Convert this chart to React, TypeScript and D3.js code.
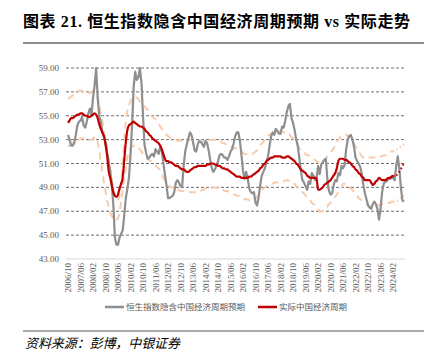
import { useEffect, useRef } from "react";
import * as d3 from "d3";

// monthly, 2006/10 .. 2024/09
const tickLabels = [
  "2006/10", "2007/06", "2008/02", "2008/10", "2009/06", "2010/02", "2010/10",
  "2011/06", "2012/02", "2012/10", "2013/06", "2014/02", "2014/10", "2015/06",
  "2016/02", "2016/10", "2017/06", "2018/02", "2018/10", "2019/06", "2020/02",
  "2020/10", "2021/06", "2022/02", "2022/10", "2023/06", "2024/02",
];
const yTicks = [43, 45, 47, 49, 51, 53, 55, 57, 59];

const hsiImplied = [
  53.4, 53.0, 52.5, 52.5, 52.7, 53.4, 54.2, 54.5, 54.6, 54.9,
  54.2, 54.0, 54.5, 55.2, 55.6, 55.0, 56.5, 57.5, 59.0, 56.5,
  55.0, 54.5, 53.6, 53.2, 52.8, 51.9, 51.2, 50.4, 49.2, 47.6,
  44.8, 44.2, 44.2, 44.8, 45.1, 45.4, 46.7, 48.1, 48.9, 49.8,
  51.7, 54.2, 57.4, 58.7, 58.0, 58.2, 59.0, 57.8, 55.0, 52.5,
  51.9, 51.4, 51.5, 51.7, 51.8, 51.6, 52.2, 52.0, 51.8, 52.4,
  52.0, 51.1, 50.1, 49.2, 48.1, 48.1, 48.2, 48.3, 48.6, 49.4,
  49.6, 49.4, 49.1, 49.0, 50.8, 52.0, 52.6, 53.1, 53.6, 53.4,
  52.8, 52.1, 52.0, 52.6, 52.9, 52.8, 52.6, 52.4, 52.9, 52.7,
  52.1, 51.3, 50.6, 50.3, 50.5, 50.8, 51.2, 51.7, 51.8, 51.7,
  51.5, 51.5, 51.3, 51.6, 52.0, 52.2, 52.7, 53.3, 53.6, 53.6,
  52.9, 51.7, 50.4, 49.7, 50.3, 49.7, 48.9, 48.6, 48.5, 48.6,
  47.7, 47.5, 48.2, 49.2, 50.0, 50.3, 50.6, 51.1, 51.6, 52.5,
  53.3, 53.6, 53.4, 53.9, 53.7, 53.5, 53.5, 54.1, 54.0, 54.6,
  55.3, 55.8, 56.0, 54.8, 54.4, 53.8, 53.0, 52.5, 51.5, 50.4,
  49.6, 49.4, 49.1, 48.8, 49.5, 49.3, 50.2, 50.0, 49.6, 49.7,
  50.8, 50.1, 50.9, 51.1, 51.3, 51.4, 49.6, 48.7, 48.4, 48.5,
  49.2, 49.6, 49.5, 50.2, 50.0, 50.8, 50.6, 50.9, 52.2, 53.0,
  53.3, 53.4, 53.0, 52.4, 51.5, 51.2, 51.0, 50.7, 50.1, 49.2,
  48.5, 48.0, 47.5, 47.3, 47.2, 47.6, 47.8, 47.6, 47.2, 46.3,
  47.2, 48.6, 49.3, 49.5, 49.5, 49.7, 49.7, 49.8, 49.8, 49.6,
  50.8, 51.6, 50.6, 49.0, 47.9, 47.8,
];

const actualCycle = [
  54.4, 54.6, 54.8, 54.8, 54.9, 55.0, 55.1, 55.1, 55.2, 55.2,
  55.1, 55.0, 55.0, 54.9, 54.9, 55.0, 55.1, 55.2, 55.1, 54.8,
  54.3, 53.9, 53.6, 53.3, 52.6, 51.7, 50.4, 49.8, 49.2, 48.6,
  48.3, 48.2, 48.4, 48.9, 49.3, 49.8, 51.3, 52.8, 53.8, 54.2,
  54.3, 54.4, 54.5, 54.4, 54.3, 54.2, 54.1, 54.1, 54.0, 53.9,
  53.7, 53.6, 53.4, 53.3, 53.1, 53.0, 52.9, 52.8, 52.7, 52.5,
  52.2, 51.8, 51.4, 51.2, 51.2, 51.1, 51.1, 51.0, 50.9, 50.8,
  50.8, 50.7, 50.6, 50.5, 50.5, 50.4, 50.3, 50.3, 50.4, 50.5,
  50.6, 50.7, 50.7, 50.8, 50.8, 50.8, 50.8, 50.8, 50.8, 50.9,
  50.9, 51.0, 51.0, 51.0, 50.9, 50.9, 50.8, 50.8, 50.7, 50.6,
  50.6, 50.5, 50.5, 50.4, 50.3, 50.2, 50.1, 50.0, 49.9, 49.9,
  49.9, 49.8, 49.8, 49.8, 49.8, 49.8, 49.9, 49.9, 50.0, 50.1,
  50.2, 50.3, 50.4, 50.6, 50.7, 50.9, 51.0, 51.2, 51.3, 51.4,
  51.5, 51.5, 51.6, 51.6, 51.6, 51.6, 51.6, 51.5, 51.5, 51.5,
  51.6, 51.6, 51.5, 51.4, 51.3, 51.2, 51.0, 50.9, 50.7, 50.5,
  50.4, 50.3, 50.2, 50.0, 49.9, 49.8, 49.8, 49.8, 49.8, 49.8,
  48.8, 48.8, 48.9, 49.0, 49.2, 49.3, 49.4, 49.5, 49.6, 49.8,
  50.0, 50.2, 50.6, 51.2, 51.4, 51.4, 51.4, 51.3, 51.3, 51.2,
  51.1, 51.0, 50.8, 50.7, 50.5, 50.4, 50.2, 50.1, 49.9, 49.8,
  49.6, 49.6, 49.6, 49.6, 49.4, 49.2, 49.3, 49.5, 49.6, 49.8,
  49.7, 49.6, 49.6, 49.6, 49.7, 49.8, 49.8, 49.9, 50.0, 49.9,
  50.0, 50.1, 50.3, 50.5, 50.8, 51.0,
];

const upperBand = [
  56.4, 56.5, 56.6, 56.7, 56.8, 56.9, 57.0, 57.1, 57.1, 57.1,
  57.0, 57.0, 57.0, 56.9, 56.9, 57.0, 57.1, 57.0, 56.9, 56.6,
  55.9, 55.2, 54.5, 53.7, 53.0, 52.3, 51.4, 50.5, 49.7, 48.8,
  48.3, 47.9, 48.0, 48.4, 49.4, 51.0, 52.9, 54.5, 55.4, 55.9,
  56.2, 56.4, 56.6, 56.6, 56.5, 56.4, 56.2, 56.0, 55.9, 55.8,
  55.6, 55.5, 55.3, 55.1, 54.9, 54.8, 54.7, 54.5, 54.3, 54.1,
  53.9, 53.8, 53.6, 53.4, 53.3, 53.2, 53.1, 53.0, 53.0, 53.0,
  52.9, 52.9, 52.9, 52.9, 52.9, 52.9, 52.9, 53.0, 53.0, 53.0,
  52.9, 52.8, 52.8, 52.8, 52.8, 52.8, 52.8, 52.9, 52.9, 52.9,
  53.0, 53.0, 53.0, 53.0, 53.0, 53.0, 52.9, 52.8, 52.8, 52.7,
  52.7, 52.6, 52.5, 52.5, 52.4, 52.4, 52.3, 52.3, 52.2, 52.1,
  52.0, 52.0, 51.9, 51.8, 51.8, 51.8, 51.8, 51.8, 51.8, 51.9,
  52.0, 52.1, 52.3, 52.5, 52.7, 52.8, 53.0, 53.1, 53.3, 53.4,
  53.5, 53.5, 53.6, 53.7, 53.7, 53.7, 53.7, 53.7, 53.6, 53.6,
  53.5, 53.5, 53.4, 53.2, 53.1, 53.0, 52.7, 52.5, 52.3, 52.1,
  52.0, 51.9, 51.8, 51.7, 51.7, 51.6, 51.5, 51.4, 51.3, 51.2,
  51.1, 51.0, 51.0, 51.1, 51.3, 51.4, 51.6, 51.7, 51.9, 52.1,
  52.3, 52.5, 52.8, 53.0, 53.2, 53.3, 53.4, 53.4, 53.4, 53.3,
  53.3, 53.2, 52.9, 52.7, 52.4, 52.2, 52.0, 51.8, 51.6, 51.5,
  51.4, 51.4, 51.5, 51.5, 51.5, 51.5, 51.5, 51.5, 51.6, 51.6,
  51.6, 51.6, 51.7, 51.7, 51.7, 51.8, 51.9, 52.0, 52.0, 52.1,
  52.2, 52.2, 52.3, 52.4, 52.5, 52.6,
];

const lowerBand = [
  52.4, 52.5, 52.6, 52.7, 52.8, 52.8, 52.9, 53.0, 53.1, 53.1,
  53.1, 53.1, 53.1, 53.0, 53.0, 53.0, 53.1, 53.2, 53.2, 52.8,
  52.1, 51.2, 50.3, 49.4, 48.7, 47.9, 47.4, 46.9, 46.6, 46.4,
  46.2, 46.3, 46.4, 46.9, 47.8, 48.8, 49.8, 50.7, 51.5, 52.0,
  52.3, 52.4, 52.5, 52.5, 52.4, 52.3, 52.2, 52.0, 51.8, 51.6,
  51.5, 51.4, 51.3, 51.2, 51.1, 51.0, 50.9, 50.7, 50.6, 50.4,
  50.1, 49.8, 49.6, 49.3, 49.1, 49.1, 49.0, 49.0, 48.9, 48.9,
  48.8, 48.8, 48.7, 48.7, 48.7, 48.6, 48.6, 48.6, 48.6, 48.6,
  48.6, 48.6, 48.6, 48.7, 48.7, 48.7, 48.8, 48.8, 48.9, 48.9,
  48.9, 48.9, 48.9, 49.0, 49.0, 49.0, 48.9, 48.8, 48.8, 48.8,
  48.7, 48.7, 48.7, 48.6, 48.6, 48.5, 48.4, 48.4, 48.3, 48.3,
  48.2, 48.2, 48.1, 48.0, 48.0, 48.0, 47.9, 47.9, 47.9, 48.0,
  48.1, 48.2, 48.4, 48.6, 48.7, 48.9, 49.0, 49.1, 49.2, 49.2,
  49.3, 49.3, 49.4, 49.4, 49.4, 49.5, 49.5, 49.5, 49.5, 49.6,
  49.6, 49.6, 49.5, 49.5, 49.4, 49.3, 49.1, 49.0, 48.9, 48.8,
  48.6, 48.5, 48.3, 48.2, 48.1, 47.9, 47.7, 47.6, 47.5, 47.3,
  47.2, 47.0, 47.0, 47.0, 47.1, 47.3, 47.4, 47.6, 47.7, 47.9,
  48.1, 48.2, 48.4, 48.6, 48.8, 49.0, 49.3, 49.3, 49.3, 49.2,
  49.1, 48.9, 48.8, 48.6, 48.5, 48.3, 48.1, 48.0, 47.9, 47.8,
  47.7, 47.6, 47.5, 47.4, 47.4, 47.4, 47.4, 47.4, 47.5, 47.5,
  47.5, 47.6, 47.6, 47.6, 47.7, 47.7, 47.7, 47.8, 47.8, 47.8,
  47.9, 47.9, 48.0, 48.1, 48.2, 48.3,
];

// last months are drawn dotted (2024/02 onwards)
const forecastFrom = 208;

const serif = "'Liberation Serif', 'Times New Roman', serif";
const cjk = "'Liberation Serif', 'Noto Sans CJK SC', sans-serif";

function monthIndex(label: string) {
  const [yy, mm] = label.split("/").map(Number);
  return (yy - 2006) * 12 + (mm - 10);
}

export default function App() {
  const ref = useRef<SVGSVGElement>(null);

  useEffect(() => {
    const svg = d3.select(ref.current);
    svg.selectAll("*").remove();

    const x = d3.scaleLinear().domain([0, hsiImplied.length - 1]).range([68, 404]);
    const y = d3.scaleLinear().domain([43, 59]).range([259, 68]);

    // title + rule
    svg.append("text")
      .attr("x", 23).attr("y", 27)
      .attr("textLength", 387).attr("lengthAdjust", "spacing")
      .style("font-family", cjk).style("font-weight", "bold").style("font-size", "16px")
      .attr("fill", "#000")
      .text("图表 21. 恒生指数隐含中国经济周期预期 vs 实际走势");
    svg.append("line")
      .attr("x1", 23).attr("x2", 424).attr("y1", 43).attr("y2", 43)
      .attr("stroke", "#8c8c8c").attr("stroke-width", 2);

    // gridlines
    svg.append("g").selectAll("line")
      .data(yTicks.filter((d) => d !== 43))
      .enter().append("line")
      .attr("x1", 66).attr("x2", 405)
      .attr("y1", (d) => y(d)).attr("y2", (d) => y(d))
      .attr("stroke", "#6e6e6e").attr("stroke-width", 1)
      .attr("stroke-dasharray", "3,2");

    // x axis line
    svg.append("line")
      .attr("x1", 66).attr("x2", 405).attr("y1", y(43)).attr("y2", y(43))
      .attr("stroke", "#d9d9d9").attr("stroke-width", 1);

    // y labels
    svg.append("g").selectAll("text")
      .data(yTicks)
      .enter().append("text")
      .attr("x", 59).attr("y", (d) => y(d) + 3)
      .attr("text-anchor", "end")
      .style("font-family", serif).style("font-size", "9px")
      .attr("fill", "#595959")
      .text((d) => d.toFixed(2));

    // x labels, rotated
    const xl = svg.append("g").selectAll("g")
      .data(tickLabels)
      .enter().append("g")
      .attr("transform", (d) => `translate(${x(monthIndex(d))},${y(43) + 4}) rotate(-90)`);
    xl.append("text")
      .attr("x", 0).attr("y", 3)
      .attr("text-anchor", "end")
      .style("font-family", serif).style("font-size", "9px")
      .attr("fill", "#595959")
      .text((d) => d);

    const idx = d3.range(hsiImplied.length);
    const solid = idx.filter((i) => i <= forecastFrom);
    const tail = idx.filter((i) => i >= forecastFrom);

    const lineOf = (arr: number[]) =>
      d3.line<number>().x((i) => x(i)).y((i) => y(arr[i])).curve(d3.curveMonotoneX);

    // bands
    [upperBand, lowerBand].forEach((band) => {
      svg.append("path")
        .attr("d", lineOf(band)(solid))
        .attr("fill", "none").attr("stroke", "#f8cbad").attr("stroke-width", 2)
        .attr("stroke-dasharray", "7,5");
      svg.append("path")
        .attr("d", lineOf(band)(tail))
        .attr("fill", "none").attr("stroke", "#f8cbad").attr("stroke-width", 2)
        .attr("stroke-dasharray", "1.5,2.5");
    });

    // HSI implied
    svg.append("path")
      .attr("d", d3.line<number>().x((i) => x(i)).y((i) => y(hsiImplied[i]))(idx))
      .attr("fill", "none").attr("stroke", "#8f8f8f").attr("stroke-width", 2.2)
      .attr("stroke-linejoin", "round");

    // actual cycle
    svg.append("path")
      .attr("d", lineOf(actualCycle)(solid))
      .attr("fill", "none").attr("stroke", "#c00000").attr("stroke-width", 2.2)
      .attr("stroke-linejoin", "round");
    svg.append("path")
      .attr("d", lineOf(actualCycle)(tail))
      .attr("fill", "none").attr("stroke", "#c00000").attr("stroke-width", 2)
      .attr("stroke-dasharray", "1.5,2.5");

    // legend
    const legend = [
      { label: "恒生指数隐含中国经济周期预期", color: "#8f8f8f", x: 105 },
      { label: "实际中国经济周期", color: "#c00000", x: 258 },
    ];
    const lg = svg.append("g").selectAll("g")
      .data(legend).enter().append("g")
      .attr("transform", (d) => `translate(${d.x},307)`);
    lg.append("line")
      .attr("x1", 0).attr("x2", 19).attr("y1", 0).attr("y2", 0)
      .attr("stroke", (d) => d.color).attr("stroke-width", 2.5);
    lg.append("text")
      .attr("x", 21).attr("y", 3)
      .style("font-family", "'Noto Sans CJK SC', sans-serif").style("font-size", "8.5px")
      .attr("fill", "#595959")
      .text((d) => d.label);

    // source
    svg.append("line")
      .attr("x1", 23).attr("x2", 424).attr("y1", 331).attr("y2", 331)
      .attr("stroke", "#8c8c8c").attr("stroke-width", 1.5);
    svg.append("text")
      .attr("x", 25).attr("y", 348)
      .attr("textLength", 155).attr("lengthAdjust", "spacing")
      .style("font-family", "'Noto Sans CJK SC', sans-serif").style("font-size", "13px")
      .style("font-style", "italic")
      .attr("fill", "#000")
      .text("资料来源：彭博，中银证券");
  }, []);

  return (
    <svg
      ref={ref}
      width={441}
      height={353}
      style={{ position: "absolute", left: 0, top: 0, background: "#fff" }}
    />
  );
}
